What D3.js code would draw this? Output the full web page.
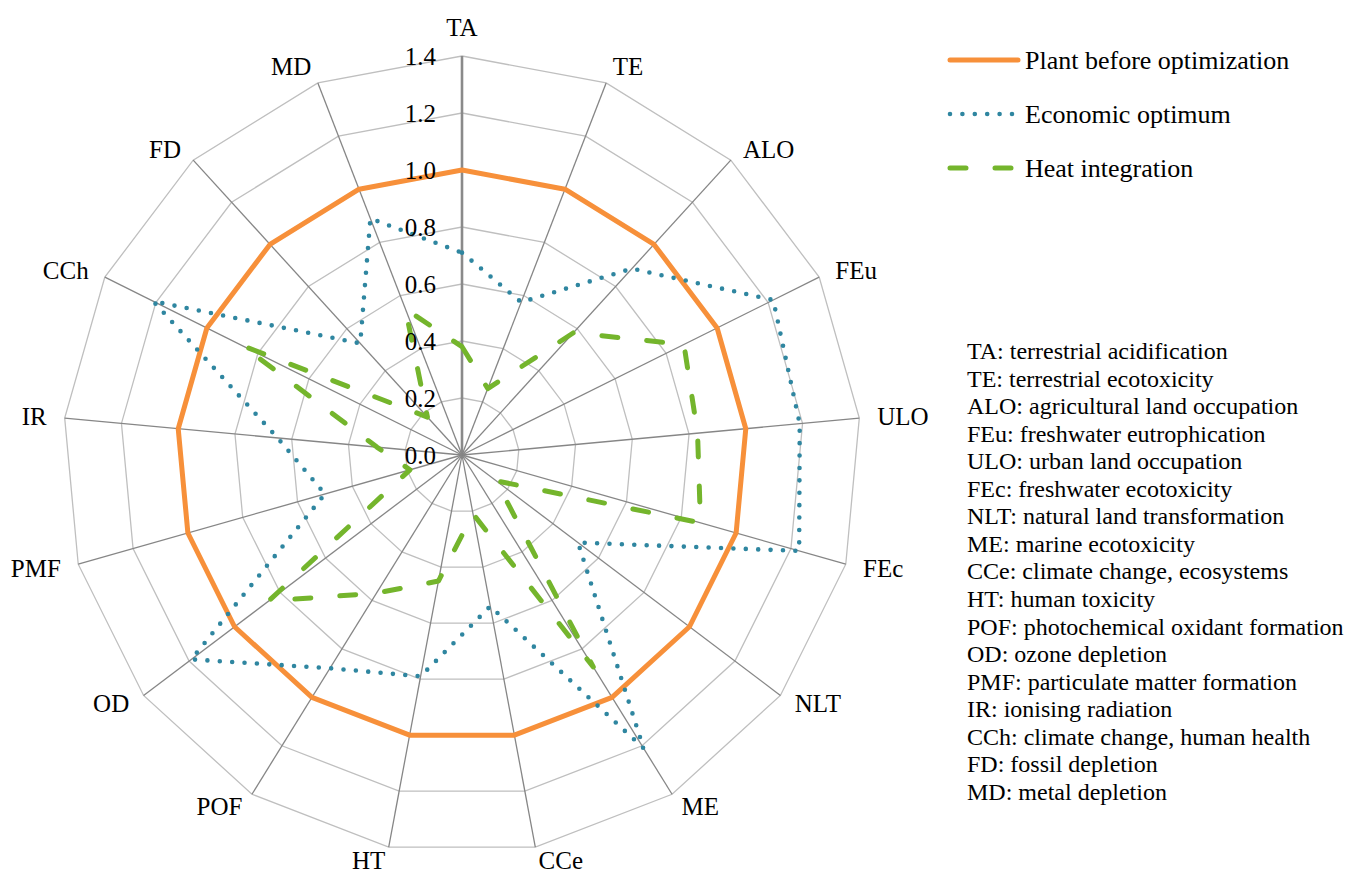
<!DOCTYPE html>
<html>
<head>
<meta charset="utf-8">
<script src="https://cdn.jsdelivr.net/npm/d3@7"></script>
<style>
  html, body { margin: 0; padding: 0; background: #fff; }
  svg { display: block; font-family: "Liberation Serif", "Times New Roman", serif; }
</style>
</head>
<body>
<svg id="chart" width="1346" height="874"></svg>
<script>
// ---- data ----
const categories = ["TA","TE","ALO","FEu","ULO","FEc","NLT","ME","CCe","HT","POF","OD","PMF","IR","CCh","FD","MD"];
const plantBefore = [1.0,1.0,1.0,1.0,1.0,1.0,1.0,1.0,1.0,1.0,1.0,1.0,1.0,1.0,1.0,1.0,1.0];
const economicOptimum = [0.71,0.575,0.885,1.22,1.19,1.23,0.51,1.21,0.54,0.79,0.88,1.19,0.50,0.65,1.21,0.53,0.89];
const heatIntegration = [0.38,0.25,0.58,0.87,0.83,0.87,0.15,0.875,0.21,0.45,0.57,0.85,0.19,0.30,0.86,0.18,0.55];
const tickValues = [0,0.2,0.4,0.6,0.8,1.0,1.2,1.4];
const tickLabels = ["0.0","0.2","0.4","0.6","0.8","1.0","1.2","1.4"];
const seriesNames = ["Plant before optimization","Economic optimum","Heat integration"];
const abbreviations = [
  "TA: terrestrial acidification",
  "TE: terrestrial ecotoxicity",
  "ALO: agricultural land occupation",
  "FEu: freshwater eutrophication",
  "ULO: urban land occupation",
  "FEc: freshwater ecotoxicity",
  "NLT: natural land transformation",
  "ME: marine ecotoxicity",
  "CCe: climate change, ecosystems",
  "HT: human toxicity",
  "POF: photochemical oxidant formation",
  "OD: ozone depletion",
  "PMF: particulate matter formation",
  "IR: ionising radiation",
  "CCh: climate change, human health",
  "FD: fossil depletion",
  "MD: metal depletion"
];

// ---- layout ----
const svg = d3.select("#chart");
const cx = 462, cy = 455, R = 399;
const rScale = d3.scaleLinear().domain([0, 1.4]).range([0, R]);
const angle = d3.scalePoint().domain(categories).range([0, 2*Math.PI*(categories.length)/(categories.length)]).padding(0);
const step = 2*Math.PI/categories.length;
const ang = c => categories.indexOf(c) * step;
const pt = (c, v) => [cx + rScale(v)*Math.sin(ang(c)), cy - rScale(v)*Math.cos(ang(c))];

const g = svg.append("g");

// rings
tickValues.slice(1).forEach(v => {
  g.append("polygon")
    .attr("points", categories.map(c => pt(c, v).join(",")).join(" "))
    .attr("fill", "none")
    .attr("stroke", "#bfbfbf")
    .attr("stroke-width", 1.3);
});

// spokes
categories.forEach((c, i) => {
  const [x, y] = pt(c, 1.4);
  g.append("line")
    .attr("x1", cx).attr("y1", cy).attr("x2", x).attr("y2", y)
    .attr("stroke", i === 0 ? "#8a8a8a" : "#868686")
    .attr("stroke-width", i === 0 ? 2.6 : 1.3);
});

// series
const lineGen = d3.lineRadial()
  .angle((d, i) => i * step)
  .radius(d => rScale(d))
  .curve(d3.curveLinearClosed);

const series = [
  {name: seriesNames[0], values: plantBefore, color: "#f7903a", width: 5, dash: null, cap: "round"},
  {name: seriesNames[1], values: economicOptimum, color: "#2f86a0", width: 4.6, dash: "0 12.4", cap: "round"},
  {name: seriesNames[2], values: heatIntegration, color: "#74b52c", width: 5, dash: "16 29", cap: "round"}
];

const sg = svg.append("g").attr("transform", `translate(${cx},${cy})`);
series.forEach(s => {
  sg.append("path")
    .attr("d", lineGen(s.values))
    .attr("fill", "none")
    .attr("stroke", s.color)
    .attr("stroke-width", s.width)
    .attr("stroke-linejoin", "round")
    .attr("stroke-linecap", s.cap)
    .attr("stroke-dasharray", s.dash);
});

// tick labels
tickValues.forEach((v, i) => {
  svg.append("text")
    .attr("x", cx - 26)
    .attr("y", cy - rScale(v))
    .attr("text-anchor", "end")
    .attr("dominant-baseline", "central")
    .attr("font-size", 25)
    .attr("fill", "#000")
    .text(tickLabels[i]);
});

// category labels
categories.forEach(c => {
  const a = ang(c);
  const s = Math.sin(a), co = Math.cos(a);
  const [tx, ty] = pt(c, 1.4);
  const anchor = s > 0.05 ? "start" : (s < -0.05 ? "end" : "middle");
  const x = tx + 18*s;
  const y = ty - co*14 - 15*Math.pow(Math.max(0, co), 20);
  svg.append("text")
    .attr("x", x).attr("y", y)
    .attr("text-anchor", anchor)
    .attr("dominant-baseline", "central")
    .attr("font-size", 25)
    .attr("fill", "#000")
    .text(c);
});

// legend
const lg = svg.append("g");
const legendY = [60, 114, 168];
series.forEach((s, i) => {
  const y = legendY[i];
  lg.append("line")
    .attr("x1", i === 0 ? 950 : 950).attr("x2", i === 0 ? 1018 : 1014)
    .attr("y1", y).attr("y2", y)
    .attr("stroke", s.color)
    .attr("stroke-width", s.width)
    .attr("stroke-linecap", s.cap)
    .attr("stroke-dasharray", s.dash);
  lg.append("text")
    .attr("x", 1025).attr("y", y)
    .attr("dominant-baseline", "central")
    .attr("font-size", 26)
    .attr("fill", "#000")
    .text(s.name);
});

// abbreviations list
abbreviations.forEach((t, i) => {
  svg.append("text")
    .attr("x", 967)
    .attr("y", 351 + i*27.56)
    .attr("dominant-baseline", "central")
    .attr("font-size", 24)
    .attr("fill", "#000")
    .text(t);
});
</script>
</body>
</html>
